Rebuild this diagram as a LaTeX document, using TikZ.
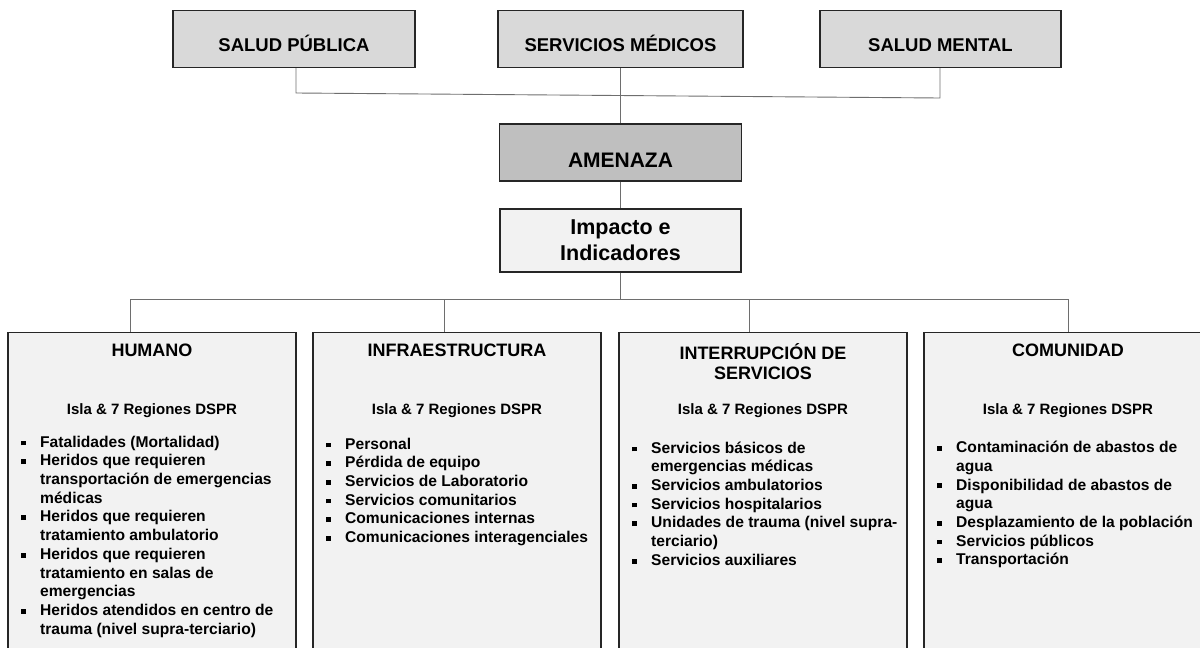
\documentclass[tikz,border=0pt]{standalone}
\usepackage{fontspec}
\setmainfont{Liberation Sans}
\usepackage{tikz}

\definecolor{topfill}{HTML}{D9D9D9}
\definecolor{thrfill}{HTML}{BFBFBF}
\definecolor{boxfill}{HTML}{F2F2F2}
\definecolor{edge}{HTML}{262626}
\definecolor{wire}{HTML}{6E6E6E}

\newcommand\bsq{\strut\makebox[19pt][l]{\rule[1.8pt]{4.8pt}{4.8pt}}}
\newcommand\cnt{\strut\hspace*{19pt}}

\tikzset{
  topbox/.style={draw=edge, line width=1.3pt, fill=topfill, inner sep=0pt,
    minimum height=57pt, text height=25pt, text depth=0pt,
    font=\fontsize{18.5}{22}\selectfont\bfseries},
  areabox/.style={draw=edge, line width=1.3pt, fill=boxfill, anchor=north,
    minimum width=288pt, minimum height=330pt},
  areatitle/.style={anchor=base, inner sep=0pt, font=\fontsize{18}{19.5}\selectfont\bfseries},
  region/.style={anchor=base, inner sep=0pt, font=\fontsize{15}{18}\selectfont\bfseries},
  items/.style={anchor=north west, inner sep=0pt, align=left,
    font=\fontsize{15.6}{18.7}\selectfont\bfseries},
  link/.style={draw=wire, line width=0.9pt}
}

\begin{document}
\begin{tikzpicture}[x=1pt,y=-1pt]
    \useasboundingbox (0,0) rectangle (1200,648);
    % top row
    \node[topbox, minimum width=242pt] (pub) at (294,39) {SALUD PÚBLICA};
    \node[topbox, minimum width=245pt] (med) at (620.5,39) {SERVICIOS MÉDICOS};
    \node[topbox, minimum width=241pt] (ment) at (940.5,39) {SALUD MENTAL};
    % threat and impact
    \node[topbox, fill=thrfill, minimum width=242pt, text height=29pt,
      font=\fontsize{21}{24}\selectfont\bfseries] (thr) at (620.5,152.5) {AMENAZA};
    \node[draw=edge, line width=1.3pt, fill=boxfill, inner sep=0pt, align=center,
      minimum width=241pt, minimum height=63pt,
      font=\fontsize{21.5}{26}\selectfont\bfseries] (imp) at (620.5,240.5) {Impacto e\\Indicadores};
    % bottom boxes
    \node[areabox] (hum) at (152,332) {};
    \node[areabox] (inf) at (457,332) {};
    \node[areabox] (int) at (763,332) {};
    \node[areabox] (com) at (1068,332) {};

    % connectors, top
    \coordinate (j1) at (296,93);
    \coordinate (j2) at (940,98);
    \draw[link] (pub.south -| j1) -- (j1) -- (j2) -- (ment.south -| j2);
    \draw[link] (med.south) -- (thr.north);
    \draw[link] (thr.south) -- (imp.north);
    % connectors, bottom
    \coordinate (b1) at (130,299);
    \coordinate (b2) at (444,299);
    \coordinate (b3) at (749,299);
    \coordinate (b4) at (1068,299);
    \draw[link] (imp.south) -- (imp.south |- b1);
    \draw[link] (b1) -- (b4);
    \draw[link] (b1) -- (hum.north -| b1);
    \draw[link] (b2) -- (inf.north -| b2);
    \draw[link] (b3) -- (int.north -| b3);
    \draw[link] (b4) -- (com.north -| b4);

    % humano
    \node[areatitle] (humt) at (152,356) {HUMANO};
    \node[region] (humr) at (152,414) {Isla \& 7 Regiones DSPR};
    \node[items] (huml) at (21,433.9) {\bsq Fatalidades (Mortalidad)\\
      \bsq Heridos que requieren\\ \cnt transportación de emergencias\\ \cnt médicas\\
      \bsq Heridos que requieren\\ \cnt tratamiento ambulatorio\\
      \bsq Heridos que requieren\\ \cnt tratamiento en salas de\\ \cnt emergencias\\
      \bsq Heridos atendidos en centro de\\ \cnt trauma (nivel supra-terciario)};
    % infraestructura
    \node[areatitle] (inft) at (457,356) {INFRAESTRUCTURA};
    \node[region] (infr) at (457,414) {Isla \& 7 Regiones DSPR};
    \node[items] (infl) at (326,435.9) {\bsq Personal\\ \bsq Pérdida de equipo\\
      \bsq Servicios de Laboratorio\\ \bsq Servicios comunitarios\\
      \bsq Comunicaciones internas\\ \bsq Comunicaciones interagenciales};
    % interrupcion de servicios
    \node[areatitle, anchor=north, align=center] (intt) at (763,343.35) {\strut INTERRUPCIÓN DE\\ \strut SERVICIOS};
    \node[region] (intr) at (763,414) {Isla \& 7 Regiones DSPR};
    \node[items] (intl) at (632,439.9) {\bsq Servicios básicos de\\ \cnt emergencias médicas\\
      \bsq Servicios ambulatorios\\ \bsq Servicios hospitalarios\\
      \bsq Unidades de trauma (nivel supra-\\ \cnt terciario)\\ \bsq Servicios auxiliares};
    % comunidad
    \node[areatitle] (comt) at (1068,356) {COMUNIDAD};
    \node[region] (comr) at (1068,414) {Isla \& 7 Regiones DSPR};
    \node[items] (coml) at (937,439.4) {\bsq Contaminación de abastos de\\ \cnt agua\\
      \bsq Disponibilidad de abastos de\\ \cnt agua\\
      \bsq Desplazamiento de la población\\ \bsq Servicios públicos\\ \bsq Transportación};
\end{tikzpicture}
\end{document}
